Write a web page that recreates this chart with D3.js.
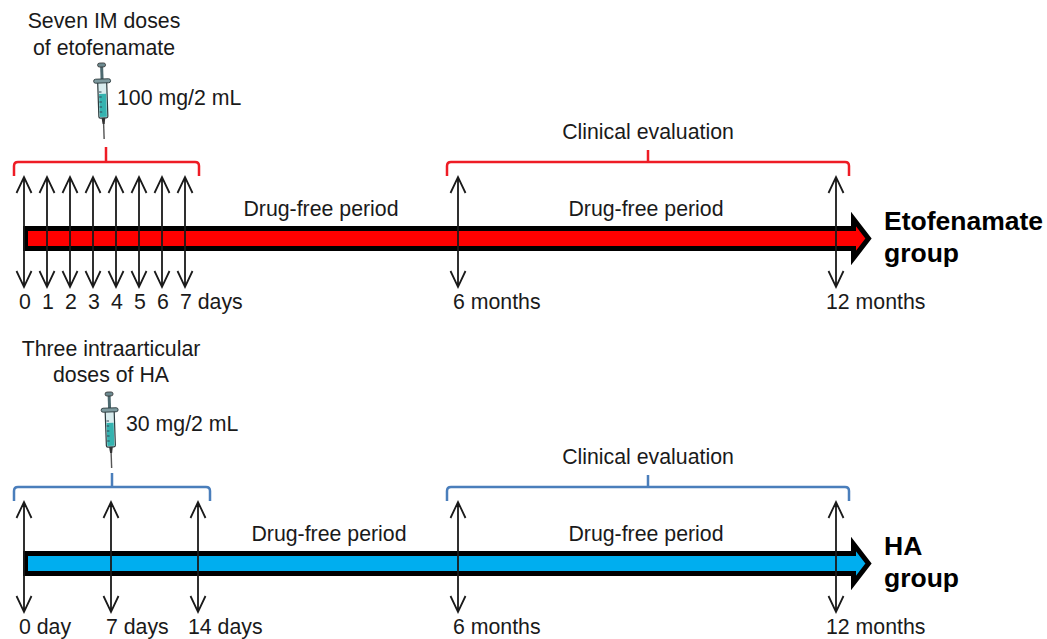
<!DOCTYPE html>
<html>
<head>
<meta charset="utf-8">
<script src="https://cdn.jsdelivr.net/npm/d3@7"></script>
<style>
  html, body { margin: 0; padding: 0; background: #fff; }
  text { font-family: "Liberation Sans", Arial, sans-serif; font-size: 21.3px; fill: #1a1a1a; white-space: pre; }
</style>
</head>
<body>
<div id="chart"></div>
<script>
// Study timeline for the two treatment groups

// Data
const etoDays = [0, 1, 2, 3, 4, 5, 6, 7];
const etoDayLabels = ["0", "1", "2", "3", "4", "5", "6", "7"];
const haDays = [0, 7, 14];
const haDayLabels = ["0", "7", "14"];
const evalMonths = [6, 12];
const evalMonthLabels = ["6", "12"];
const etoTitle = ["Seven IM doses", "of etofenamate"];
const haTitle = ["Three intraarticular", "doses of HA"];
const etoDose = "100 mg/2 mL";
const haDose = "30 mg/2 mL";
const etoGroup = ["Etofenamate", "group"];
const haGroup = ["HA", "group"];

const svg = d3.select("#chart").append("svg")
  .attr("width", 1047)
  .attr("height", 639)
  .style("display", "block");

const monthScale = d3.scaleLinear().domain([6, 12]).range([458, 836]);

function drawArrow(g, x, color) {
  const line = d3.path();
  line.moveTo(x, 177); line.lineTo(x, 287);
  // heads
  line.moveTo(x - 7.5, 193); line.lineTo(x, 177); line.lineTo(x + 7.5, 193);
  line.moveTo(x - 7.5, 271); line.lineTo(x, 287); line.lineTo(x + 7.5, 271);
  g.append("path").attr("d", line.toString())
    .attr("fill", "none").attr("stroke", color).attr("stroke-width", 1.8);
}

function drawBrace(g, x0, x1, stemX, stemTop, color) {
  const b = d3.path();
  b.moveTo(x0, 176);
  b.lineTo(x0, 166);
  b.quadraticCurveTo(x0, 162, x0 + 4, 162);
  b.lineTo(x1 - 4, 162);
  b.quadraticCurveTo(x1, 162, x1, 166);
  b.lineTo(x1, 176);
  b.moveTo(stemX, 162);
  b.lineTo(stemX, stemTop);
  g.append("path").attr("d", b.toString())
    .attr("fill", "none").attr("stroke", color).attr("stroke-width", 2.5);
}

function drawSyringe(g, cx, top, angle) {
  const s = g.append("g").attr("transform", `translate(${cx},${top}) rotate(${angle})`);
  // needle
  s.append("line").attr("x1", 0).attr("x2", 0).attr("y1", 55).attr("y2", 76)
    .attr("stroke", "#555").attr("stroke-width", 1.4);
  s.append("path").attr("d", "M-2,54 L2,54 L1,61 L-1,61 Z").attr("fill", "#333");
  // plunger
  s.append("line").attr("x1", 0).attr("x2", 0).attr("y1", 3).attr("y2", 18)
    .attr("stroke", "#4d6a70").attr("stroke-width", 3);
  s.append("rect").attr("x", -4).attr("y", 0).attr("width", 8).attr("height", 4).attr("rx", 2)
    .attr("fill", "#6d8a90").attr("stroke", "#333").attr("stroke-width", 0.8);
  // barrel
  s.append("rect").attr("x", -4.5).attr("y", 18).attr("width", 9).attr("height", 37).attr("rx", 1.5)
    .attr("fill", "#d8ecee").attr("stroke", "#2b3a3d").attr("stroke-width", 1.2);
  s.append("rect").attr("x", -3.5).attr("y", 31).attr("width", 7).attr("height", 23)
    .attr("fill", "#35b3b0");
  [29, 34, 39, 44, 49].forEach(y => {
    s.append("line").attr("x1", -3.5).attr("x2", -1).attr("y1", y).attr("y2", y)
      .attr("stroke", "#345").attr("stroke-width", 1);
  });
  // flange
  s.append("rect").attr("x", -8.5).attr("y", 16).attr("width", 17).attr("height", 4).attr("rx", 2)
    .attr("fill", "#7d9a9f").attr("stroke", "#2b3a3d").attr("stroke-width", 0.9);
}

function drawGroup(o) {
  const g = svg.append("g").attr("transform", `translate(0,${o.dy})`);
  const x = d3.scaleLinear().domain(d3.extent(o.days)).range(o.dayRange);

  // title and dose
  o.title.forEach((t, i) => {
    g.append("text").attr("x", o.titleX).attr("y", o.titleY + i * o.titleGap)
      .attr("text-anchor", "middle").text(t);
  });
  g.append("text").attr("x", o.doseX).attr("y", o.doseY).text(o.dose);
  drawSyringe(g, o.syrX, o.syrY, o.syrAngle);

  // brackets
  drawBrace(g, 14, o.braceEnd, o.braceStem, o.stemTop, o.braceColor);
  drawBrace(g, 447, 849, 648, 150, o.braceColor);
  g.append("text").attr("x", 648).attr("y", 139).attr("text-anchor", "middle").text("Clinical evaluation");

  // main timeline arrow
  g.append("path")
    .attr("d", "M25.5,228.5 H853.5 V219 L868.5,238.5 L853.5,258 V248.5 H25.5 Z")
    .attr("fill", o.barColor).attr("stroke", "#000").attr("stroke-width", 5)
    .attr("stroke-linejoin", "miter").attr("stroke-miterlimit", 6);

  // dose and evaluation arrows
  o.days.forEach(d => drawArrow(g, x(d), "#1a1a1a"));
  evalMonths.forEach(m => drawArrow(g, monthScale(m), "#1a1a1a"));

  // tick labels, number centred on its arrow
  o.days.forEach((d, i) => {
    const lab = o.dayLabels[i];
    g.append("text").attr("x", x(d) - 5 * lab.length).attr("y", 309).text(lab + o.units[i]);
  });
  evalMonths.forEach((m, i) => {
    const lab = evalMonthLabels[i];
    g.append("text").attr("x", monthScale(m) - 5 * lab.length).attr("y", 309).text(lab + " months");
  });

  // drug-free labels
  [o.freeX, 646].forEach(fx => {
    g.append("text").attr("x", fx).attr("y", 216).attr("text-anchor", "middle").text("Drug-free period");
  });

  // group label
  o.group.forEach((t, i) => {
    g.append("text").attr("x", 884).attr("y", 230 + i * 32)
      .style("font-size", "26.5px").style("font-weight", "bold").style("fill", "#000").text(t);
  });
}

drawGroup({
  dy: 0, days: etoDays, dayLabels: etoDayLabels, dayRange: [24, 185],
  units: ["", "", "", "", "", "", "", " days"],
  title: etoTitle, titleX: 104, titleY: 28, titleGap: 26.5, dose: etoDose, doseX: 117, doseY: 105,
  syrX: 101.5, syrY: 63, syrAngle: -2,
  braceEnd: 199, braceStem: 106, stemTop: 147, braceColor: "#ee1c25",
  barColor: "#ff0000", freeX: 321, group: etoGroup
});

drawGroup({
  dy: 325, days: haDays, dayLabels: haDayLabels, dayRange: [24, 198],
  units: [" day", " days", " days"],
  title: haTitle, titleX: 111, titleY: 31, titleGap: 26, dose: haDose, doseX: 126, doseY: 106,
  syrX: 109, syrY: 67, syrAngle: -2,
  braceEnd: 210, braceStem: 112, stemTop: 148, braceColor: "#4a7ebb",
  barColor: "#00aeef", freeX: 329, group: haGroup
});
</script>
</body>
</html>
